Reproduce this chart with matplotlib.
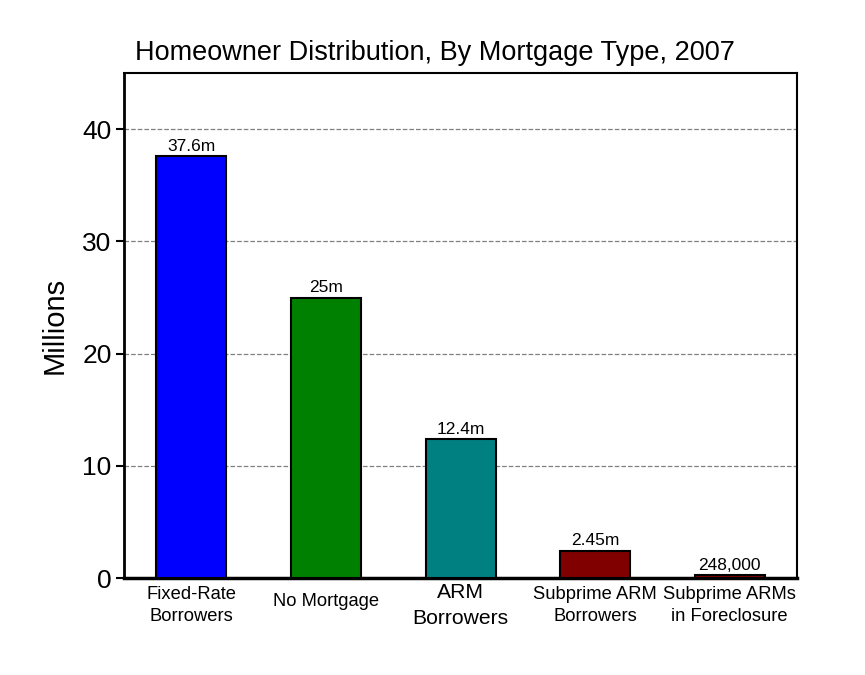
import matplotlib.pyplot as plt

# Data
categories = ['Fixed-Rate\nBorrowers', 'No Mortgage', 'ARM\nBorrowers',
              'Subprime ARM\nBorrowers', 'Subprime ARMs\nin Foreclosure']
values = [37.6, 25.0, 12.4, 2.45, 0.248]
bar_labels = ['37.6m', '25m', '12.4m', '2.45m', '248,000']
colors = ['#0000FF', '#008000', '#008080', '#800000', '#800000']

plt.rcParams['font.family'] = ['Liberation Sans', 'DejaVu Sans']

fig = plt.figure(figsize=(8.65, 6.75), dpi=100)
ax = fig.add_axes([0.1434, 0.1437, 0.778, 0.748])

x = list(range(len(values)))
bars = ax.bar(x, values, width=0.52, color=colors, edgecolor='black', linewidth=1.5, zorder=3)

for b, lab in zip(bars, bar_labels):
    ax.annotate(lab, xy=(b.get_x() + b.get_width() / 2, b.get_height()),
                xytext=(0, 1.5), textcoords='offset points',
                ha='center', va='bottom', fontsize=12.5)

ax.set_xlim(-0.5, 4.5)
ax.set_ylim(0, 45)
ax.set_yticks([0, 10, 20, 30, 40])
ax.tick_params(axis='y', labelsize=19, length=6, width=1.5, pad=3)
ax.set_xticks(x)
ax.set_xticklabels([])
ax.tick_params(axis='x', length=0)
ax.yaxis.grid(True, linestyle='--', color='gray', linewidth=0.9, zorder=0)

# x labels with uneven sizes / offsets, like the original
label_sizes = [13.2, 13.2, 15.2, 13.2, 13.2]
label_offsets = [-6, -11, -3.5, -6, -6]
label_spacing = [1.35, 1.2, 1.45, 1.35, 1.35]
for i, cat in enumerate(categories):
    ax.annotate(cat, xy=(i, 0), xycoords=('data', 'axes fraction'),
                xytext=(0, label_offsets[i]), textcoords='offset points',
                ha='center', va='top', fontsize=label_sizes[i],
                linespacing=label_spacing[i])

for side in ['top', 'right']:
    ax.spines[side].set_linewidth(1.5)
ax.spines['left'].set_linewidth(2)
ax.spines['bottom'].set_linewidth(2.5)

ax.set_ylabel('Millions', fontsize=21, labelpad=10)
fig.text(0.503, 0.921, 'Homeowner Distribution, By Mortgage Type, 2007',
         ha='center', va='center', fontsize=19.5)

plt.savefig('out.png', dpi=100)
